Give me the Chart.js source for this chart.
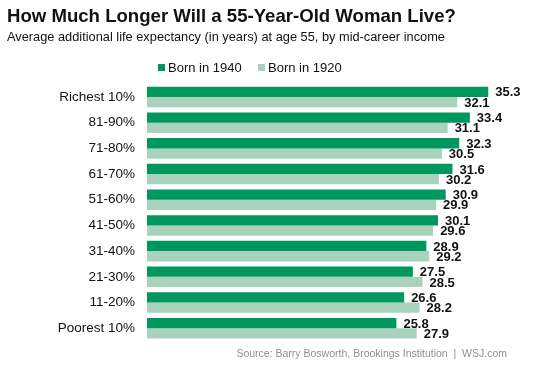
<!DOCTYPE html>
<html>
<head>
<meta charset="utf-8">
<script src="https://cdn.jsdelivr.net/npm/chart.js@4/dist/chart.umd.min.js"></script>
<style>
  html, body { margin: 0; padding: 0; background: #fff; }
  #wrap { width: 553px; height: 369px; }
</style>
</head>
<body>
<div id="wrap"><canvas id="life"></canvas></div>
<script>
// data
const groups = ["Richest 10%", "81-90%", "71-80%", "61-70%", "51-60%", "41-50%", "31-40%", "21-30%", "11-20%", "Poorest 10%"];
const born1940 = [35.3, 33.4, 32.3, 31.6, 30.9, 30.1, 28.9, 27.5, 26.6, 25.8];
const born1920 = [32.1, 31.1, 30.5, 30.2, 29.9, 29.6, 29.2, 28.5, 28.2, 27.9];
const seriesNames = ["Born in 1940", "Born in 1920"];

const darkGreen = "#00975f";
const lightGreen = "#a9d2bd";
const font = "'Liberation Sans', Arial, sans-serif";

Chart.defaults.font.family = font;
Chart.defaults.color = "#111";

// value labels at the end of each bar
const valueLabels = {
    id: "valueLabels",
    afterDatasetsDraw(chart) {
        const ctx = chart.ctx;
        ctx.save();
        ctx.font = "bold 13px " + font;
        ctx.fillStyle = "#111";
        ctx.textBaseline = "middle";
        ctx.textAlign = "left";
        chart.data.datasets.forEach((ds, i) => {
            chart.getDatasetMeta(i).data.forEach((bar, j) => {
                ctx.fillText(ds.data[j].toFixed(1), bar.x + 7, bar.y + 1);
            });
        });
        ctx.restore();
    }
};

// legend and source line
const extras = {
    id: "extras",
    afterDraw(chart) {
        const ctx = chart.ctx;
        ctx.save();
        ctx.font = "13px " + font;
        ctx.textBaseline = "middle";
        let x = 158;
        chart.data.datasets.forEach((ds) => {
            ctx.fillStyle = ds.backgroundColor;
            ctx.fillRect(x, 64, 7, 7);
            ctx.fillStyle = "#111";
            ctx.fillText(ds.label, x + 10, 68);
            x += 100;
        });
        ctx.font = "10.5px " + font;
        ctx.fillStyle = "#8f8f8f";
        ctx.textAlign = "right";
        ctx.fillText("Source: Barry Bosworth, Brookings Institution  |  WSJ.com", 507, 354);
        ctx.restore();
    }
};

new Chart(document.getElementById("life"), {
    type: "bar",
    data: {
        labels: groups,
        datasets: [
            {
                label: seriesNames[0],
                data: born1940,
                backgroundColor: darkGreen,
                categoryPercentage: 0.8,
                barPercentage: 1.0
            },
            {
                label: seriesNames[1],
                data: born1920,
                backgroundColor: lightGreen,
                categoryPercentage: 0.8,
                barPercentage: 1.0
            }
        ]
    },
    options: {
        indexAxis: "y",
        responsive: true,
        maintainAspectRatio: false,
        animation: false,
        layout: {
            padding: { top: 0, left: 7, right: 29, bottom: 28 }
        },
        plugins: {
            legend: { display: false },
            tooltip: { enabled: false },
            title: {
                display: true,
                align: "start",
                text: "How Much Longer Will a 55-Year-Old Woman Live?",
                color: "#111",
                font: { size: 18.6, weight: "bold" },
                padding: { top: 5.9, bottom: 0 }
            },
            subtitle: {
                display: true,
                align: "start",
                text: "Average additional life expectancy (in years) at age 55, by mid-career income",
                color: "#111",
                font: { size: 12.8 },
                padding: { top: 1.8, bottom: 38.8 }
            }
        },
        scales: {
            x: {
                display: false,
                min: 0,
                max: 39
            },
            y: {
                grid: { display: false, drawTicks: false },
                border: { display: false },
                ticks: {
                    padding: 12,
                    color: "#111",
                    font: { size: 13.5 }
                },
                afterFit(scale) {
                    scale.width = 140;
                }
            }
        }
    },
    plugins: [valueLabels, extras]
});
</script>
</body>
</html>
